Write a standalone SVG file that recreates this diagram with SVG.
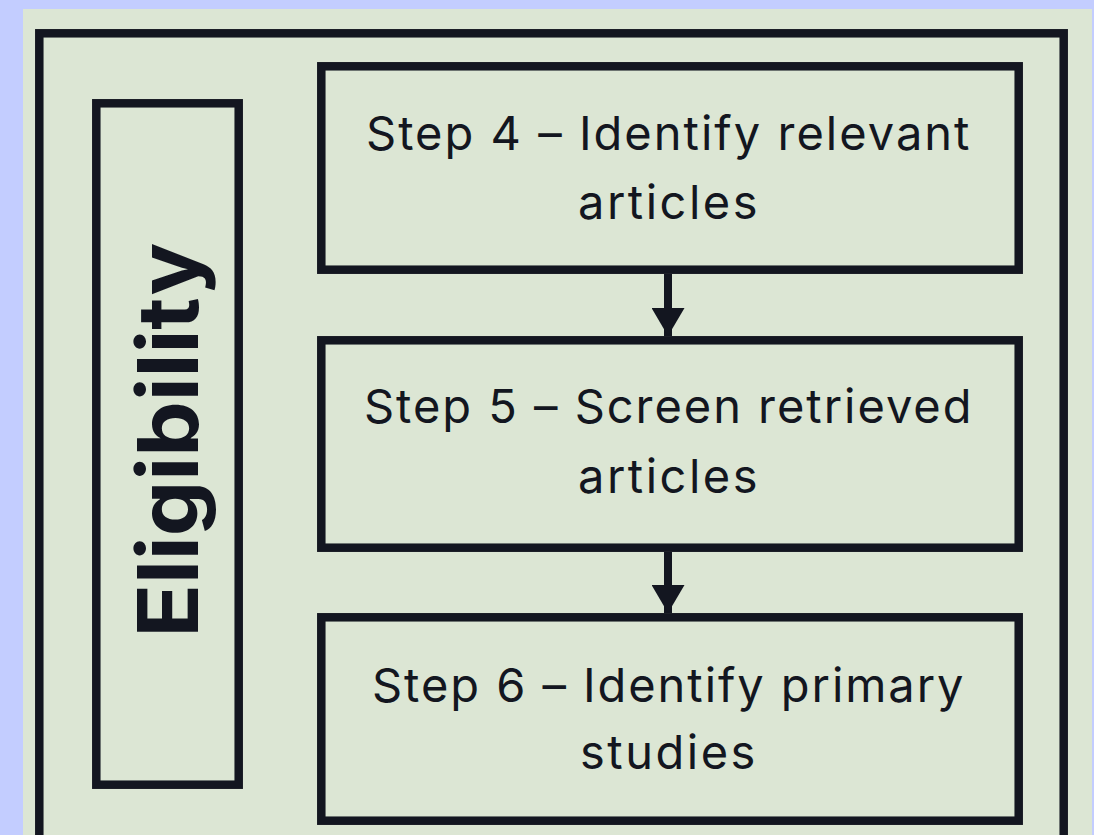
<svg xmlns="http://www.w3.org/2000/svg" width="1094" height="835" viewBox="0 0 1094 835">
  <defs>
    <style>
      .box { fill: none; stroke: #131620; stroke-width: 8.5; }
      .lbl { font-family: Inter, "Liberation Sans", sans-serif; font-size: 47px; fill: #131620; text-anchor: middle; letter-spacing: 2.5px; }
      .side { font-family: Inter, "Liberation Sans", sans-serif; font-size: 84px; font-weight: 700; fill: #131620; text-anchor: middle; }
      .conn { stroke: #131620; stroke-width: 8; fill: none; }
    </style>
    <marker id="ah" markerUnits="userSpaceOnUse" markerWidth="28" markerHeight="33" refX="28" refY="16.5" orient="auto">
      <path d="M0,0 L28,16.5 L0,33 Z" fill="#131620"/>
    </marker>
  </defs>
  <rect x="0" y="0" width="1094" height="835" fill="#c3cdff"/>
  <rect x="23" y="9" width="1069" height="840" fill="#dce6d4"/>
  <g id="frame">
    <rect class="box" x="39.3" y="33.3" width="1024.4" height="830"/>
  </g>
  <g id="eligibility">
    <rect class="box" x="96.3" y="103.3" width="142.4" height="681.4"/>
    <text class="side" transform="translate(198,440) rotate(-90)" textLength="395" lengthAdjust="spacingAndGlyphs">Eligibility</text>
  </g>
  <g id="step4">
    <rect class="box" x="321.3" y="66.3" width="697.4" height="203.4"/>
    <text class="lbl" x="669" y="150" textLength="606" lengthAdjust="spacing">Step 4 – Identify relevant</text>
    <text class="lbl" x="669" y="219">articles</text>
  </g>
  <g id="step5">
    <rect class="box" x="321.3" y="340.3" width="697.4" height="207.4"/>
    <text class="lbl" x="669" y="423" textLength="610" lengthAdjust="spacing">Step 5 – Screen retrieved</text>
    <text class="lbl" x="669" y="493">articles</text>
  </g>
  <g id="step6">
    <rect class="box" x="321.3" y="617.3" width="697.4" height="203.4"/>
    <text class="lbl" x="669" y="702" textLength="594" lengthAdjust="spacing">Step 6 – Identify primary</text>
    <text class="lbl" x="669" y="769">studies</text>
  </g>
  <g id="connectors">
    <line class="conn" x1="668" y1="274" x2="668" y2="336" marker-end="url(#ah)"/>
    <line class="conn" x1="668" y1="552" x2="668" y2="613" marker-end="url(#ah)"/>
  </g>
</svg>
